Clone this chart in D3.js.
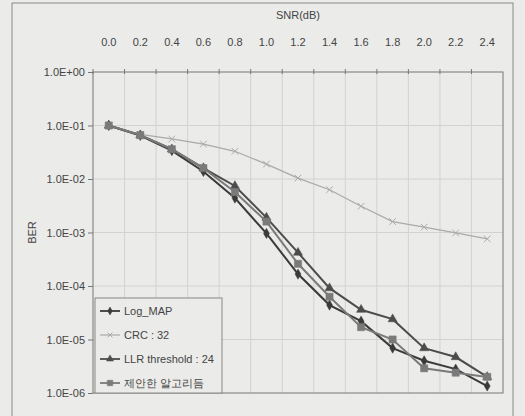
<!DOCTYPE html>
<html>
<head>
<meta charset="utf-8">
<script src="https://cdn.jsdelivr.net/npm/d3@7"></script>
<style>
  body { margin: 0; background: #ebebe9; }
  svg { display: block; font-family: "Liberation Sans", Arial, sans-serif; }
</style>
</head>
<body>
<div id="chart"></div>
<script>
// SNR categories (x axis, drawn on top)
const snr = ["0.0","0.2","0.4","0.6","0.8","1.0","1.2","1.4","1.6","1.8","2.0","2.2","2.4"];

// BER values
const logMap = [0.1, 0.065, 0.034, 0.0138, 0.0044, 0.00096, 0.000167, 4.4e-5, 2.2e-5, 6.9e-6, 4.0e-6, 2.8e-6, 1.35e-6];
const crc32 = [0.1, 0.068, 0.056, 0.045, 0.033, 0.019, 0.0104, 0.0063, 0.0031, 0.0016, 0.00126, 0.00098, 0.00076];
const llr24 = [0.1, 0.066, 0.036, 0.016, 0.0074, 0.0019, 0.00042, 9.1e-5, 3.6e-5, 2.4e-5, 6.9e-6, 4.7e-6, 2.0e-6];
const proposed = [0.1, 0.066, 0.036, 0.016, 0.0057, 0.0016, 0.00026, 6.3e-5, 1.7e-5, 1.0e-5, 2.9e-6, 2.4e-6, 2.0e-6];

const yTicks = [1, 1e-1, 1e-2, 1e-3, 1e-4, 1e-5, 1e-6];
const yTickLabels = ["1.0E+00","1.0E-01","1.0E-02","1.0E-03","1.0E-04","1.0E-05","1.0E-06"];

const seriesNames = ["Log_MAP", "CRC : 32", "LLR threshold : 24", "제안한 알고리듬"];

const width = 525, height = 416;
const plot = {left: 93, right: 503, top: 72, bottom: 393};

const svg = d3.select("#chart").append("svg")
    .attr("width", width)
    .attr("height", height);

// outer frame
svg.append("rect")
    .attr("x", 12).attr("y", 3)
    .attr("width", 501).attr("height", 430)
    .attr("fill", "none")
    .attr("stroke", "#8a8a8a");

var x = d3.scaleBand()
    .domain(snr)
    .range([plot.left, plot.right]);

var y = d3.scaleLog()
    .domain([1e-6, 1])
    .range([plot.bottom, plot.top]);

const cx = d => x(d) + x.bandwidth() / 2;

// grid
const grid = svg.append("g");
grid.selectAll("line.v")
    .data(snr.slice(1))
    .enter().append("line")
    .attr("x1", d => x(d)).attr("x2", d => x(d))
    .attr("y1", plot.top).attr("y2", plot.bottom)
    .attr("stroke", "#d2d2d0");
grid.selectAll("line.h")
    .data(yTicks.slice(1, -1))
    .enter().append("line")
    .attr("x1", plot.left).attr("x2", plot.right)
    .attr("y1", d => y(d)).attr("y2", d => y(d))
    .attr("stroke", "#d2d2d0");

svg.append("rect")
    .attr("x", plot.left).attr("y", plot.top)
    .attr("width", plot.right - plot.left)
    .attr("height", plot.bottom - plot.top)
    .attr("fill", "none")
    .attr("stroke", "#777");

// top x axis
const xAxis = svg.append("g")
    .attr("transform", `translate(0,${plot.top})`)
    .call(d3.axisTop(x).tickSize(0).tickPadding(26));
xAxis.select(".domain").remove();
xAxis.selectAll("text")
    .attr("font-size", 11)
    .attr("fill", "#444");
svg.append("g").selectAll("line")
    .data(snr)
    .enter().append("line")
    .attr("x1", d => x(d)).attr("x2", d => x(d))
    .attr("y1", plot.top - 3).attr("y2", plot.top + 2)
    .attr("stroke", "#777");

// left y axis
const yAxis = svg.append("g")
    .attr("transform", `translate(${plot.left},0)`)
    .call(d3.axisLeft(y).tickValues(yTicks)
        .tickFormat((d, i) => yTickLabels[i])
        .tickSize(5).tickPadding(3));
yAxis.select(".domain").remove();
yAxis.selectAll("line").attr("stroke", "#777");
yAxis.selectAll("text")
    .attr("font-size", 11)
    .attr("fill", "#444");

svg.append("text")
    .attr("x", (plot.left + plot.right) / 2)
    .attr("y", 19)
    .attr("text-anchor", "middle")
    .attr("font-size", 11)
    .attr("fill", "#444")
    .text("SNR(dB)");

svg.append("text")
    .attr("transform", `translate(36,${(plot.top + plot.bottom) / 2}) rotate(-90)`)
    .attr("text-anchor", "middle")
    .attr("font-size", 11)
    .attr("fill", "#444")
    .text("BER");

const series = [
    {name: seriesNames[0], values: logMap, color: "#3a3a3a", symbol: d3.symbolDiamond, size: 30, fill: true},
    {name: seriesNames[1], values: crc32, color: "#aaaaaa", symbol: d3.symbolX, size: 30, fill: false},
    {name: seriesNames[2], values: llr24, color: "#4c4c4c", symbol: d3.symbolTriangle, size: 36, fill: true},
    {name: seriesNames[3], values: proposed, color: "#7a7a7a", symbol: d3.symbolSquare, size: 52, fill: true}
];

var line = d3.line()
    .x((d, i) => cx(snr[i]))
    .y(d => y(d));

series.forEach(s => {
    const g = svg.append("g");
    g.append("path")
        .attr("d", line(s.values))
        .attr("fill", "none")
        .attr("stroke", s.color)
        .attr("stroke-width", s.fill ? 2 : 1.3);
    g.selectAll("path.m")
        .data(s.values)
        .enter().append("path")
        .attr("transform", (d, i) => `translate(${cx(snr[i])},${y(d)})`)
        .attr("d", d3.symbol(s.symbol, s.size))
        .attr("fill", s.fill ? s.color : "none")
        .attr("stroke", s.color)
        .attr("stroke-width", s.fill ? 0.5 : 1);
});

// legend
const legend = svg.append("g");
legend.append("rect")
    .attr("x", 95).attr("y", 298)
    .attr("width", 127).attr("height", 95)
    .attr("fill", "#ebebe9")
    .attr("stroke", "#888");

const entry = legend.selectAll("g.entry")
    .data(series)
    .enter().append("g")
    .attr("transform", (d, i) => `translate(100,${311 + i * 24})`);
entry.append("line")
    .attr("x1", 0).attr("x2", 20)
    .attr("stroke", d => d.color)
    .attr("stroke-width", d => d.fill ? 1.8 : 1.2);
entry.append("path")
    .attr("transform", "translate(10,0)")
    .attr("d", d => d3.symbol(d.symbol, d.size * 0.6)())
    .attr("fill", d => d.fill ? d.color : "none")
    .attr("stroke", d => d.color)
    .attr("stroke-width", d => d.fill ? 0.5 : 1);
entry.append("text")
    .attr("x", 24)
    .attr("dy", "0.35em")
    .attr("font-size", 11)
    .attr("fill", "#444")
    .text(d => d.name);
</script>
</body>
</html>
